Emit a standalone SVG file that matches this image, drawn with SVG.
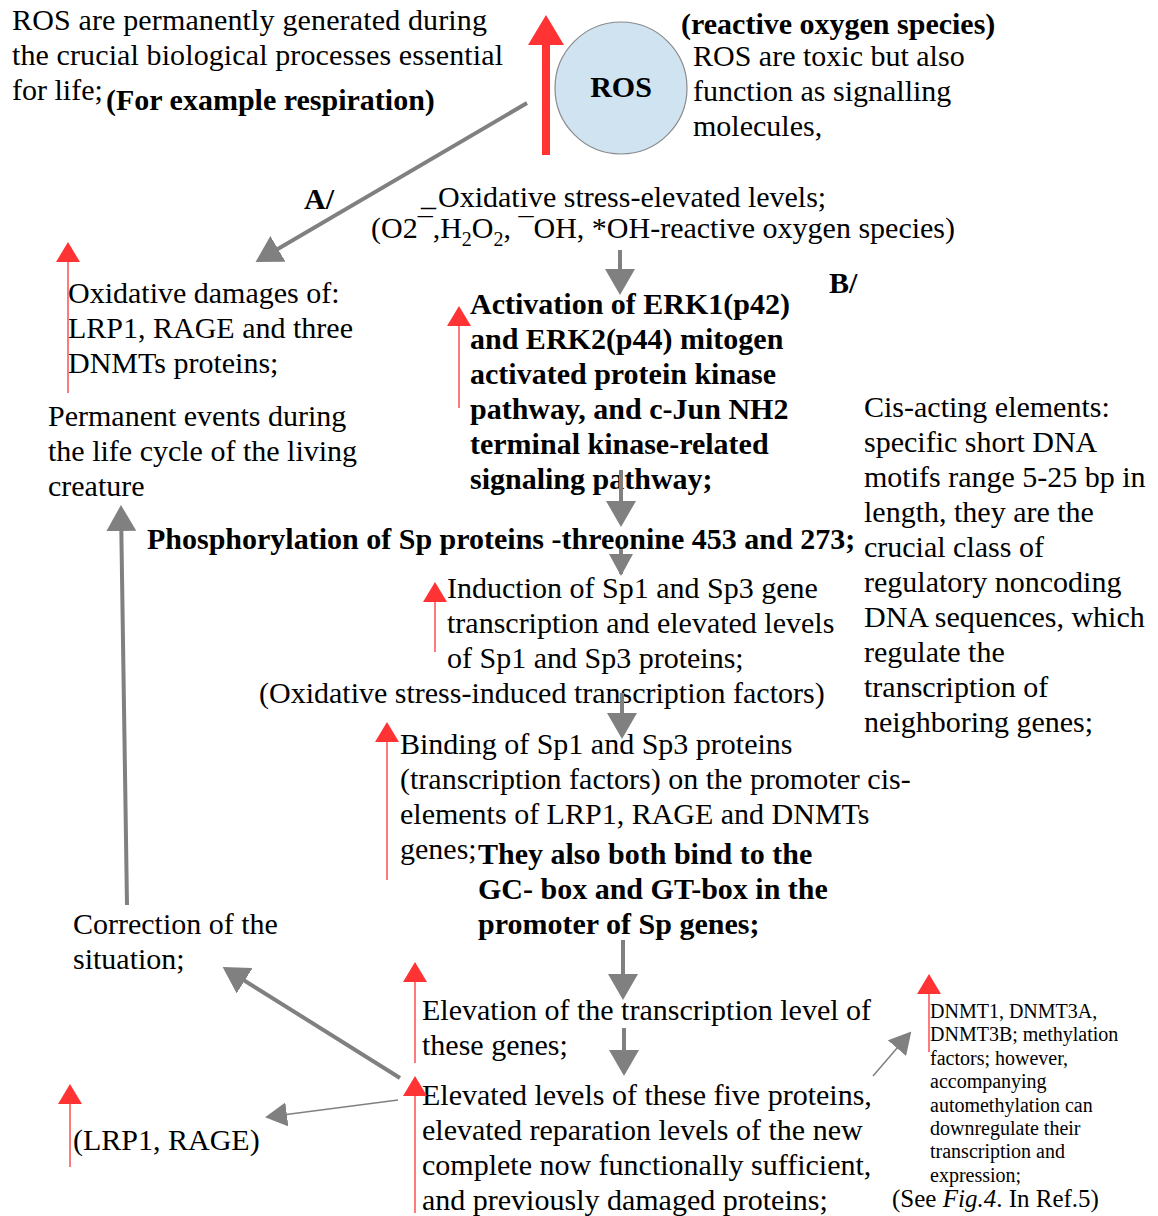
<svg xmlns="http://www.w3.org/2000/svg" width="1158" height="1216" viewBox="0 0 1158 1216">
<style>
text{font-family:"Liberation Serif","Times New Roman",serif;font-size:30px;fill:#000}
.b{font-weight:bold}
.s{font-size:20px}
.m{font-size:25px}
.g{stroke:#808080;stroke-width:4;fill:none}
.gt{stroke:#808080;stroke-width:1.5;fill:none}
.r{stroke:#ff5a5a;stroke-width:1.6;fill:none}
</style>
<defs>
<marker id="gh" viewBox="0 0 26 30" refX="22" refY="15" markerWidth="26" markerHeight="30" markerUnits="userSpaceOnUse" orient="auto"><path d="M0,0L26,15L0,30z" fill="#808080"/></marker>
<marker id="gs" viewBox="0 0 22 24" refX="20" refY="12" markerWidth="22" markerHeight="24" markerUnits="userSpaceOnUse" orient="auto"><path d="M0,0L22,12L0,24z" fill="#808080"/></marker>
<marker id="rh" viewBox="0 0 20 24" refX="18" refY="12" markerWidth="20" markerHeight="24" markerUnits="userSpaceOnUse" orient="auto"><path d="M0,0L20,12L0,24z" fill="#ff3333"/></marker>
</defs>

<g id="intro">
<text x="12" y="30" textLength="475">ROS are permanently generated during</text>
<text x="12" y="65" textLength="491">the crucial biological processes essential</text>
<text x="12" y="100">for life;</text>
<text x="106" y="110" class="b">(For example respiration)</text>
</g>

<g id="ros">
<circle cx="621" cy="88" r="66" fill="#cfe3f1" stroke="#8a8a8a" stroke-width="1.2"/>
<text x="621" y="97" class="b" text-anchor="middle">ROS</text>
</g>

<g id="ros-desc">
<text x="681" y="34" class="b">(reactive oxygen species)</text>
<text x="693" y="66">ROS are toxic but also</text>
<text x="693" y="101">function as signalling</text>
<text x="693" y="136">molecules,</text>
</g>

<g id="label-a"><text x="304" y="209" class="b">A/</text></g>
<g id="label-b"><text x="829" y="293" class="b">B/</text></g>

<g id="stress">
<text x="421" y="206">_</text>
<text x="438" y="207">Oxidative stress-elevated levels;</text>
<text x="371" y="238">(O2¯,H<tspan font-size="20" dy="8">2</tspan><tspan dy="-8">O</tspan><tspan font-size="20" dy="8">2</tspan><tspan dy="-8">, ¯OH, *OH-reactive oxygen species)</tspan></text>
</g>

<g id="damages">
<text x="68" y="303">Oxidative damages of:</text>
<text x="68" y="338">LRP1, RAGE and three</text>
<text x="68" y="373">DNMTs proteins;</text>
</g>

<g id="permanent">
<text x="48" y="426">Permanent events during</text>
<text x="48" y="461">the life cycle of the living</text>
<text x="48" y="496">creature</text>
</g>

<g id="erk">
<text x="470" y="314" class="b">Activation of ERK1(p42)</text>
<text x="470" y="349" class="b">and ERK2(p44) mitogen</text>
<text x="470" y="384" class="b">activated protein kinase</text>
<text x="470" y="419" class="b">pathway, and c-Jun NH2</text>
<text x="470" y="454" class="b">terminal kinase-related</text>
<text x="470" y="489" class="b">signaling pathway;</text>
</g>

<g id="phospho">
<text x="147" y="549" class="b">Phosphorylation of Sp proteins -threonine 453 and 273;</text>
</g>

<g id="cis">
<text x="864" y="417">Cis-acting elements:</text>
<text x="864" y="452">specific short DNA</text>
<text x="864" y="487">motifs range 5-25 bp in</text>
<text x="864" y="522">length, they are the</text>
<text x="864" y="557">crucial class of</text>
<text x="864" y="592">regulatory noncoding</text>
<text x="864" y="627">DNA sequences, which</text>
<text x="864" y="662">regulate the</text>
<text x="864" y="697">transcription of</text>
<text x="864" y="732">neighboring genes;</text>
</g>

<g id="induction">
<text x="447" y="598">Induction of Sp1 and Sp3 gene</text>
<text x="447" y="633">transcription and elevated levels</text>
<text x="447" y="668">of Sp1 and Sp3 proteins;</text>
<text x="259" y="703">(Oxidative stress-induced transcription factors)</text>
</g>

<g id="binding">
<text x="400" y="754">Binding of Sp1 and Sp3 proteins</text>
<text x="400" y="789">(transcription factors) on the promoter cis-</text>
<text x="400" y="824">elements of LRP1, RAGE and DNMTs</text>
<text x="400" y="859">genes;</text>
<text x="478" y="864" class="b">They also both bind to the</text>
<text x="478" y="899" class="b">GC- box and GT-box in the</text>
<text x="478" y="934" class="b">promoter of Sp genes;</text>
</g>

<g id="correction">
<text x="73" y="934">Correction of the</text>
<text x="73" y="969">situation;</text>
</g>

<g id="elevation">
<text x="422" y="1020">Elevation of the transcription level of</text>
<text x="422" y="1055">these genes;</text>
</g>

<g id="elevated">
<text x="422" y="1105">Elevated levels of these five proteins,</text>
<text x="422" y="1140">elevated reparation levels of the new</text>
<text x="422" y="1175">complete now functionally sufficient,</text>
<text x="422" y="1210">and previously damaged proteins;</text>
</g>

<g id="lrp">
<text x="73" y="1150">(LRP1, RAGE)</text>
</g>

<g id="dnmt">
<text x="930" y="1018" class="s">DNMT1, DNMT3A,</text>
<text x="930" y="1041" class="s">DNMT3B; methylation</text>
<text x="930" y="1065" class="s">factors; however,</text>
<text x="930" y="1088" class="s">accompanying</text>
<text x="930" y="1112" class="s">automethylation can</text>
<text x="930" y="1135" class="s">downregulate their</text>
<text x="930" y="1158" class="s">transcription and</text>
<text x="930" y="1182" class="s">expression;</text>
<text x="892" y="1207" class="m">(See <tspan font-style="italic">Fig.4</tspan>. In Ref.5)</text>
</g>

<g id="connectors">
<line x1="546" y1="155" x2="546" y2="40" stroke="#ff3333" stroke-width="8"/>
<path d="M528,45L546,15L564,45z" fill="#ff3333"/>
<line class="g" x1="527" y1="103" x2="259" y2="260" marker-end="url(#gh)"/>
<line class="g" x1="620" y1="250" x2="620" y2="291" marker-end="url(#gh)"/>
<line class="g" x1="621" y1="470" x2="621" y2="523" marker-end="url(#gh)"/>
<line class="g" x1="621" y1="549" x2="621" y2="574" marker-end="url(#gs)"/>
<line class="g" x1="622" y1="693" x2="622" y2="735" marker-end="url(#gh)"/>
<line class="g" x1="623" y1="940" x2="623" y2="996" marker-end="url(#gh)"/>
<line class="g" x1="624" y1="1028" x2="624" y2="1072" marker-end="url(#gh)"/>
<line class="g" x1="400" y1="1078" x2="226" y2="969" marker-end="url(#gh)"/>
<line class="g" x1="127" y1="905" x2="121" y2="509" marker-end="url(#gh)"/>
<line class="gt" x1="398" y1="1100" x2="267" y2="1117" marker-end="url(#gs)"/>
<line class="gt" x1="873" y1="1076" x2="910" y2="1033" marker-end="url(#gs)"/>
<line class="r" x1="68" y1="393" x2="68" y2="244" marker-end="url(#rh)"/>
<line class="r" x1="459" y1="408" x2="459" y2="308" marker-end="url(#rh)"/>
<line class="r" x1="435" y1="652" x2="435" y2="584" marker-end="url(#rh)"/>
<line class="r" x1="387" y1="880" x2="387" y2="724" marker-end="url(#rh)"/>
<line class="r" x1="415" y1="1063" x2="415" y2="964" marker-end="url(#rh)"/>
<line class="r" x1="415" y1="1213" x2="415" y2="1078" marker-end="url(#rh)"/>
<line class="r" x1="70" y1="1167" x2="70" y2="1086" marker-end="url(#rh)"/>
<line class="r" x1="929" y1="1052" x2="929" y2="976" marker-end="url(#rh)"/>
</g>
</svg>
